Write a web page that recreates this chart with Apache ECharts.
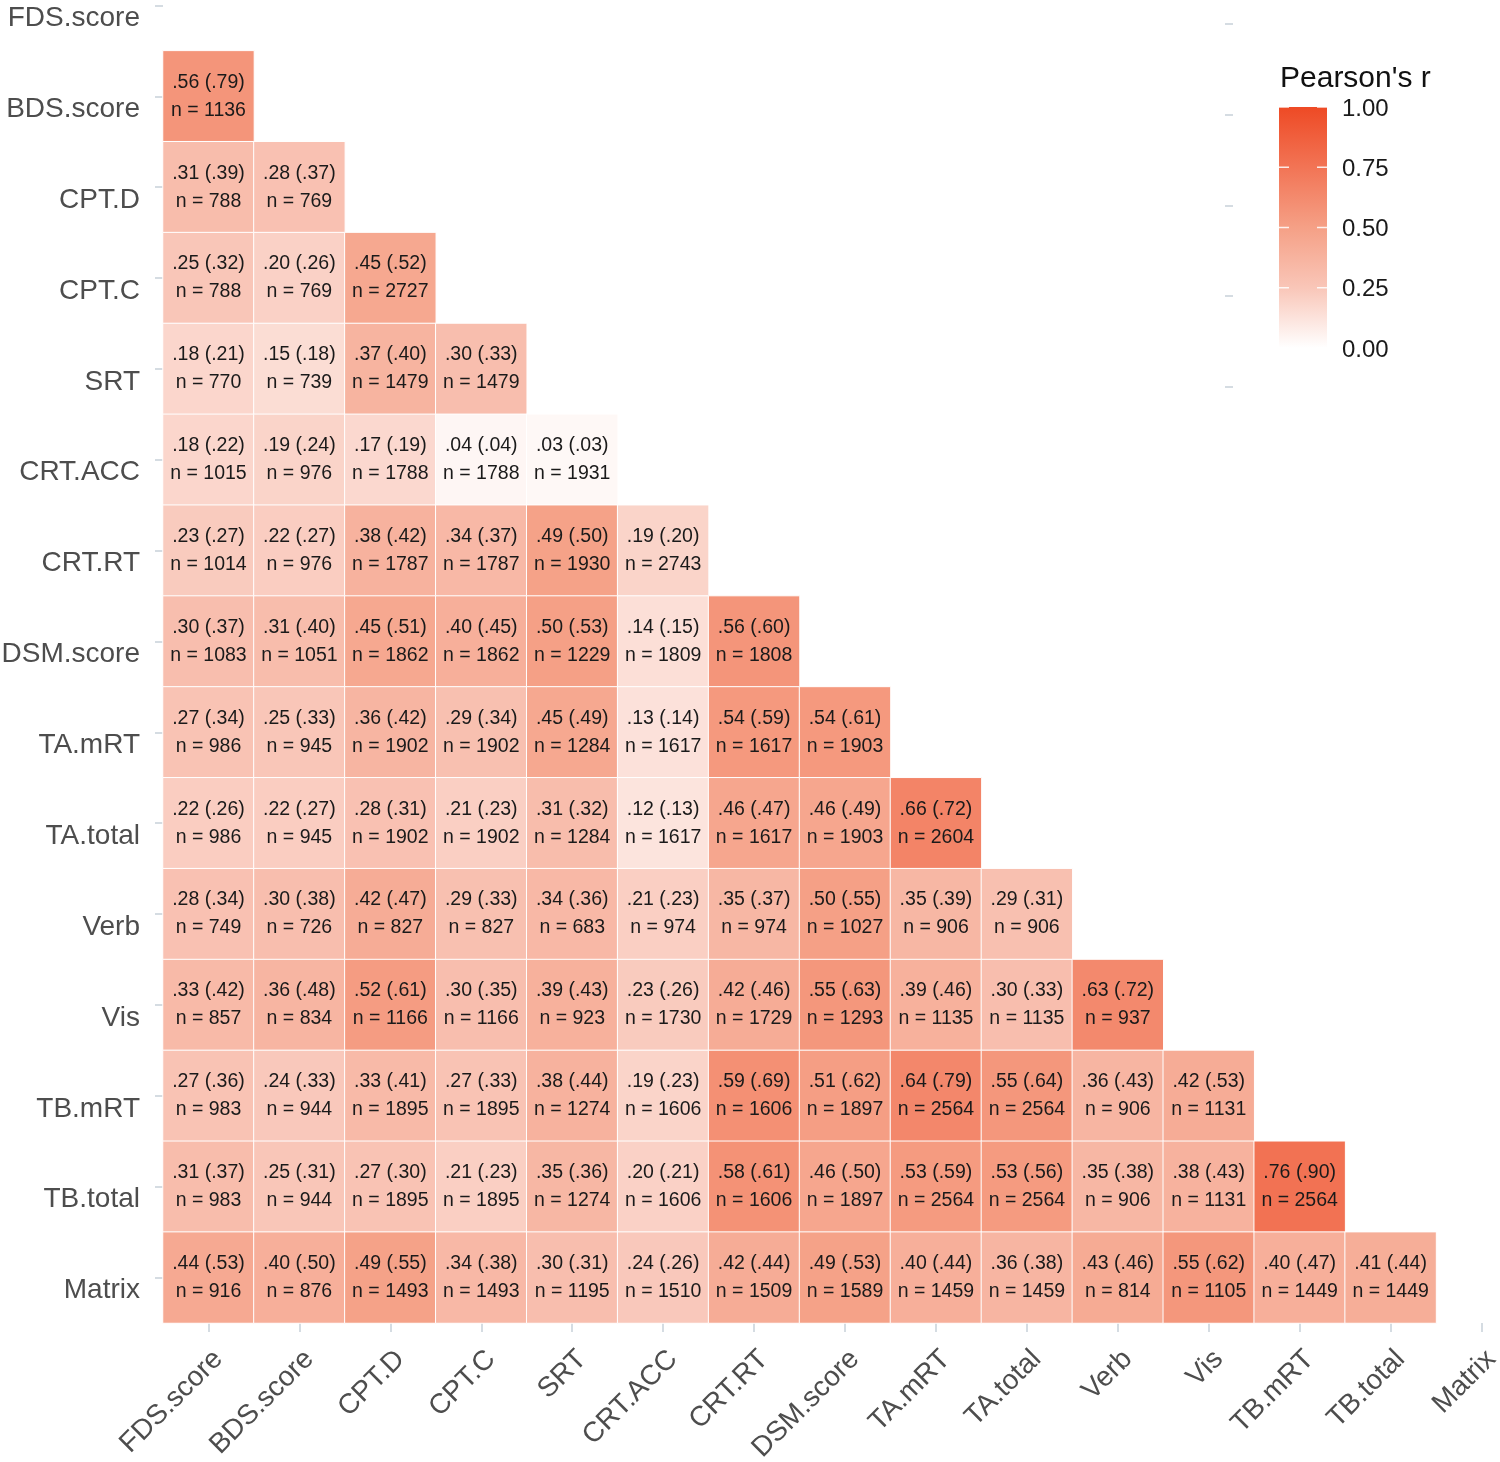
<!DOCTYPE html>
<html>
<head>
<meta charset="utf-8">
<script src="https://cdn.jsdelivr.net/npm/echarts@6/dist/echarts.min.js"></script>
<style>
html,body{margin:0;padding:0;background:#fff;}
#chart{width:1500px;height:1462px;}
</style>
</head>
<body>
<div id="chart"></div>
<script>
const categories = ['FDS.score','BDS.score','CPT.D','CPT.C','SRT','CRT.ACC','CRT.RT','DSM.score','TA.mRT','TA.total','Verb','Vis','TB.mRT','TB.total','Matrix'];

// Pearson's r (lower triangle, row i has columns 0..i-1)
const rValues = [
  [],
  [0.56],
  [0.31,0.28],
  [0.25,0.20,0.45],
  [0.18,0.15,0.37,0.30],
  [0.18,0.19,0.17,0.04,0.03],
  [0.23,0.22,0.38,0.34,0.49,0.19],
  [0.30,0.31,0.45,0.40,0.50,0.14,0.56],
  [0.27,0.25,0.36,0.29,0.45,0.13,0.54,0.54],
  [0.22,0.22,0.28,0.21,0.31,0.12,0.46,0.46,0.66],
  [0.28,0.30,0.42,0.29,0.34,0.21,0.35,0.50,0.35,0.29],
  [0.33,0.36,0.52,0.30,0.39,0.23,0.42,0.55,0.39,0.30,0.63],
  [0.27,0.24,0.33,0.27,0.38,0.19,0.59,0.51,0.64,0.55,0.36,0.42],
  [0.31,0.25,0.27,0.21,0.35,0.20,0.58,0.46,0.53,0.53,0.35,0.38,0.76],
  [0.44,0.40,0.49,0.34,0.30,0.24,0.42,0.49,0.40,0.36,0.43,0.55,0.40,0.41]
];

// values in parentheses
const rParen = [
  [],
  [0.79],
  [0.39,0.37],
  [0.32,0.26,0.52],
  [0.21,0.18,0.40,0.33],
  [0.22,0.24,0.19,0.04,0.03],
  [0.27,0.27,0.42,0.37,0.50,0.20],
  [0.37,0.40,0.51,0.45,0.53,0.15,0.60],
  [0.34,0.33,0.42,0.34,0.49,0.14,0.59,0.61],
  [0.26,0.27,0.31,0.23,0.32,0.13,0.47,0.49,0.72],
  [0.34,0.38,0.47,0.33,0.36,0.23,0.37,0.55,0.39,0.31],
  [0.42,0.48,0.61,0.35,0.43,0.26,0.46,0.63,0.46,0.33,0.72],
  [0.36,0.33,0.41,0.33,0.44,0.23,0.69,0.62,0.79,0.64,0.43,0.53],
  [0.37,0.31,0.30,0.23,0.36,0.21,0.61,0.50,0.59,0.56,0.38,0.43,0.90],
  [0.53,0.50,0.55,0.38,0.31,0.26,0.44,0.53,0.44,0.38,0.46,0.62,0.47,0.44]
];

// sample sizes
const nValues = [
  [],
  [1136],
  [788,769],
  [788,769,2727],
  [770,739,1479,1479],
  [1015,976,1788,1788,1931],
  [1014,976,1787,1787,1930,2743],
  [1083,1051,1862,1862,1229,1809,1808],
  [986,945,1902,1902,1284,1617,1617,1903],
  [986,945,1902,1902,1284,1617,1617,1903,2604],
  [749,726,827,827,683,974,974,1027,906,906],
  [857,834,1166,1166,923,1730,1729,1293,1135,1135,937],
  [983,944,1895,1895,1274,1606,1606,1897,2564,2564,906,1131],
  [983,944,1895,1895,1274,1606,1606,1897,2564,2564,906,1131,2564],
  [916,876,1493,1493,1195,1510,1509,1589,1459,1459,814,1105,1449,1449]
];

const legendTicks = [1.00, 0.75, 0.50, 0.25, 0.00];
const legendTitle = "Pearson's r";

const heatData = [];
for (let i = 0; i < rValues.length; i++) {
  for (let j = 0; j < rValues[i].length; j++) {
    heatData.push([j, i, rValues[i][j], rParen[i][j], nValues[i][j]]);
  }
}

function fmt(v) { return v.toFixed(2).replace(/^0/, ''); }

const FONT = "'Liberation Sans', Arial, Helvetica, sans-serif";
const colorStops = ['#FFFFFF', '#F9C6B8', '#F5A086', '#F27455', '#EE4A25'];

// legend geometry
const LX = 1279, LY = 107, LW = 48, LH = 241;
const graphics = [];
graphics.push({
  type: 'text', left: 1280, top: 64,
  style: { text: legendTitle, font: "30px " + FONT, fill: '#111' }
});
graphics.push({
  type: 'rect', shape: { x: LX, y: LY, width: LW, height: LH },
  style: {
    fill: new echarts.graphic.LinearGradient(0, 0, 0, 1,
      colorStops.slice().reverse().map((c, k) => ({ offset: k / (colorStops.length - 1), color: c })))
  }
});
legendTicks.forEach(v => {
  const y = LY + (1 - v) * LH;
  graphics.push({ type: 'line', shape: { x1: LX, y1: y, x2: LX + 10, y2: y }, style: { stroke: 'rgba(255,255,255,0.85)', lineWidth: 1.5 } });
  graphics.push({ type: 'line', shape: { x1: LX + LW - 10, y1: y, x2: LX + LW, y2: y }, style: { stroke: 'rgba(255,255,255,0.85)', lineWidth: 1.5 } });
  graphics.push({
    type: 'text', x: 1342, y: y + 2,
    style: { text: v.toFixed(2), font: "24px " + FONT, fill: '#1a1a1a', verticalAlign: 'middle', textAlign: 'left' }
  });
});
// faint marks at right of plot
[24, 115, 206, 296, 387].forEach(y => {
  graphics.push({ type: 'line', shape: { x1: 1225, y1: y, x2: 1233, y2: y }, style: { stroke: '#D5DCE2', lineWidth: 2 } });
});

const chart = echarts.init(document.getElementById('chart'), null, { renderer: 'canvas' });
chart.setOption({
  backgroundColor: '#fff',
  animation: false,
  textStyle: { fontFamily: FONT },
  grid: { left: 163, top: -40, width: 1364, height: 1363, containLabel: false, outerBoundsMode: 'none' },
  xAxis: {
    type: 'category', data: categories,
    axisLine: { show: false },
    axisTick: { show: true, alignWithLabel: true, length: 9, lineStyle: { color: '#D5DCE2', width: 2 } },
    splitLine: { show: false },
    axisLabel: {
      interval: 0, rotate: 45, margin: 22, align: 'right', verticalAlign: 'top',
      fontSize: 28, color: '#4D4D4D', fontFamily: FONT
    }
  },
  yAxis: {
    type: 'category', data: categories, inverse: true,
    axisLine: { show: false },
    axisTick: { show: true, alignWithLabel: true, length: 8, lineStyle: { color: '#D5DCE2', width: 2 } },
    splitLine: { show: false },
    axisLabel: {
      interval: 0, margin: 23, fontSize: 28, color: '#4D4D4D', fontFamily: FONT,
      verticalAlign: 'top', lineHeight: 26
    }
  },
  visualMap: {
    show: false, type: 'continuous', min: 0, max: 1, dimension: 2,
    inRange: { color: colorStops }
  },
  graphic: graphics,
  series: [{
    type: 'heatmap',
    data: heatData,
    itemStyle: { borderColor: '#FFFFFF', borderWidth: 1 },
    emphasis: { disabled: true },
    label: {
      show: true,
      fontSize: 19.5, lineHeight: 28, color: '#1a1a1a', fontFamily: FONT,
      formatter: p => fmt(p.data[2]) + ' (' + fmt(p.data[3]) + ')\nn = ' + p.data[4]
    }
  }]
});
</script>
</body>
</html>
